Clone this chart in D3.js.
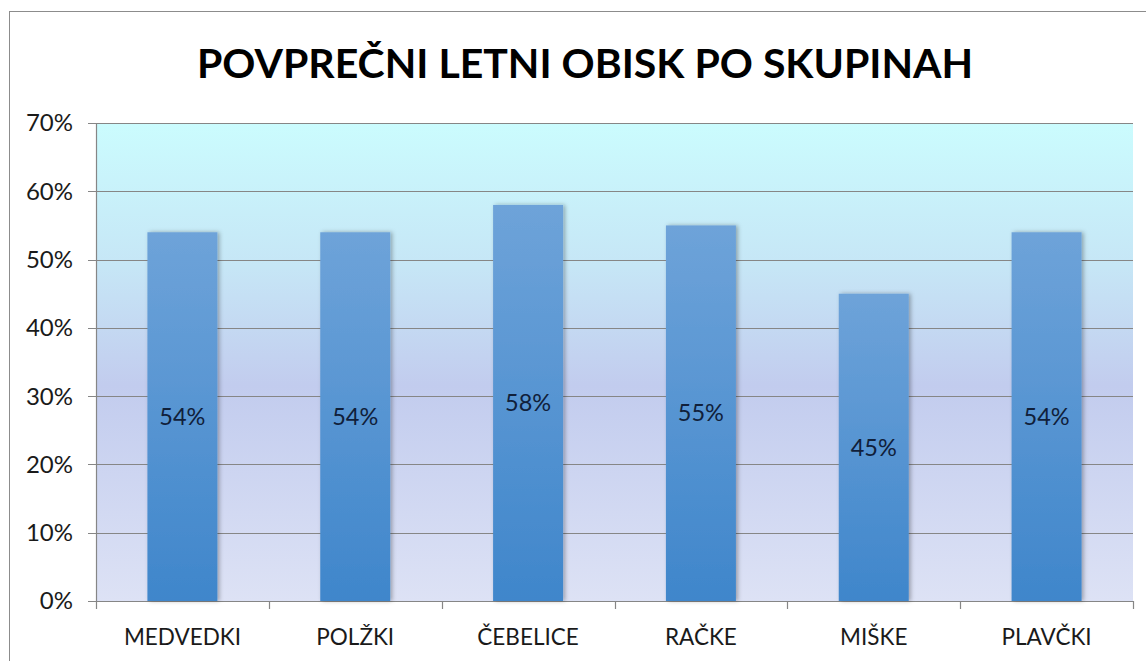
<!DOCTYPE html>
<html><head><meta charset="utf-8">
<script src="https://cdn.jsdelivr.net/npm/d3@7"></script>
<style>body{margin:0;background:#fff}svg{display:block}</style>
</head><body>
<script>
const categories = ["MEDVEDKI", "POLŽKI", "ČEBELICE", "RAČKE", "MIŠKE", "PLAVČKI"];
const values = [0.54, 0.54, 0.58, 0.55, 0.45, 0.54];
const yTicks = [0, 0.1, 0.2, 0.3, 0.4, 0.5, 0.6, 0.7];
const title = "POVPREČNI LETNI OBISK PO SKUPINAH";

const W = 1146, H = 661;
const m = {left: 96, right: 13, top: 123, bottom: 60};
const svg = d3.select("body").append("svg").attr("width", W).attr("height", H);
const defs = svg.append("defs");

const bg = defs.append("linearGradient").attr("id", "bg").attr("x1", 0).attr("y1", 0).attr("x2", 0).attr("y2", 1);
[[0, "#cbfcfe"], [0.3, "#c6e6f6"], [0.55, "#c2ccee"], [1, "#dde2f5"]].forEach(([o, c]) => bg.append("stop").attr("offset", o).attr("stop-color", c));
const bar = defs.append("linearGradient").attr("id", "bar").attr("x1", 0).attr("y1", 0).attr("x2", 0).attr("y2", 1);
[[0, "#6ea3d9"], [1, "#3f86cb"]].forEach(([o, c]) => bar.append("stop").attr("offset", o).attr("stop-color", c));
const sh = defs.append("filter").attr("id", "sh").attr("x", -0.2).attr("y", -0.1).attr("width", 1.4).attr("height", 1.2);
sh.append("feDropShadow").attr("dx", 2).attr("dy", 0).attr("stdDeviation", 2).attr("flood-color", "#000").attr("flood-opacity", 0.3);

// outer frame
svg.append("rect").attr("x", 9.5).attr("y", 11.5).attr("width", W + 20).attr("height", H + 20)
  .attr("fill", "none").attr("stroke", "#8c8c8c").attr("stroke-width", 1);

const x = d3.scaleBand().domain(categories).range([m.left, W - m.right]).paddingInner(0.595).paddingOuter(0.2975);
const y = d3.scaleLinear().domain([0, 0.7]).range([H - m.bottom, m.top]);

svg.append("rect").attr("x", m.left).attr("y", m.top).attr("width", W - m.right - m.left).attr("height", y(0) - m.top).attr("fill", "url(#bg)");

// gridlines
svg.append("g").selectAll("line").data(yTicks).join("line")
  .attr("x1", m.left - 8).attr("x2", W - m.right)
  .attr("y1", d => Math.round(y(d)) + 0.5).attr("y2", d => Math.round(y(d)) + 0.5)
  .attr("stroke", "#868686").attr("stroke-width", 1.2);

// y axis line
svg.append("line").attr("x1", m.left + 0.5).attr("x2", m.left + 0.5).attr("y1", m.top).attr("y2", y(0))
  .attr("stroke", "#868686").attr("stroke-width", 1.2);

// x axis tick marks at category boundaries
const bounds = d3.range(categories.length + 1).map(i => m.left + i * x.step());
svg.append("g").selectAll("line").data(bounds).join("line")
  .attr("x1", d => Math.round(d) + 0.5).attr("x2", d => Math.round(d) + 0.5)
  .attr("y1", y(0)).attr("y2", y(0) + 8)
  .attr("stroke", "#868686").attr("stroke-width", 1.2);

// y tick labels
svg.append("g").selectAll("text").data(yTicks).join("text")
  .attr("x", 73).attr("y", d => y(d)).attr("dy", "0.35em").attr("text-anchor", "end")
  .attr("font-family", "Lato, 'Open Sans', sans-serif").attr("font-size", 24).attr("fill", "#1a1a1a")
  .text(d => d3.format(".0%")(d));

// bars
svg.append("g").selectAll("rect").data(values).join("rect")
  .attr("x", (d, i) => x(categories[i])).attr("width", x.bandwidth())
  .attr("y", d => y(d)).attr("height", d => y(0) - y(d))
  .attr("fill", "url(#bar)").attr("filter", "url(#sh)");

// value labels
svg.append("g").selectAll("text").data(values).join("text")
  .attr("x", (d, i) => x(categories[i]) + x.bandwidth() / 2)
  .attr("y", d => (y(d) + y(0)) / 2).attr("dy", "0.35em").attr("text-anchor", "middle")
  .attr("font-family", "Lato, 'Open Sans', sans-serif").attr("font-size", 23.5).attr("fill", "#10203a")
  .text(d => d3.format(".0%")(d));

// category labels
svg.append("g").selectAll("text").data(categories).join("text")
  .attr("x", d => x(d) + x.bandwidth() / 2).attr("y", y(0) + 36).attr("dy", "0.35em").attr("text-anchor", "middle")
  .attr("font-family", "Lato, 'Open Sans', sans-serif").attr("font-size", 22.5).attr("fill", "#1a1a1a")
  .text(d => d);

// title
svg.append("text").attr("x", 585).attr("y", 78).attr("text-anchor", "middle")
  .attr("font-family", "Lato, 'Open Sans', sans-serif").attr("font-weight", "bold").attr("font-size", 41).attr("fill", "#000")
  .text(title);
</script>
</body></html>
